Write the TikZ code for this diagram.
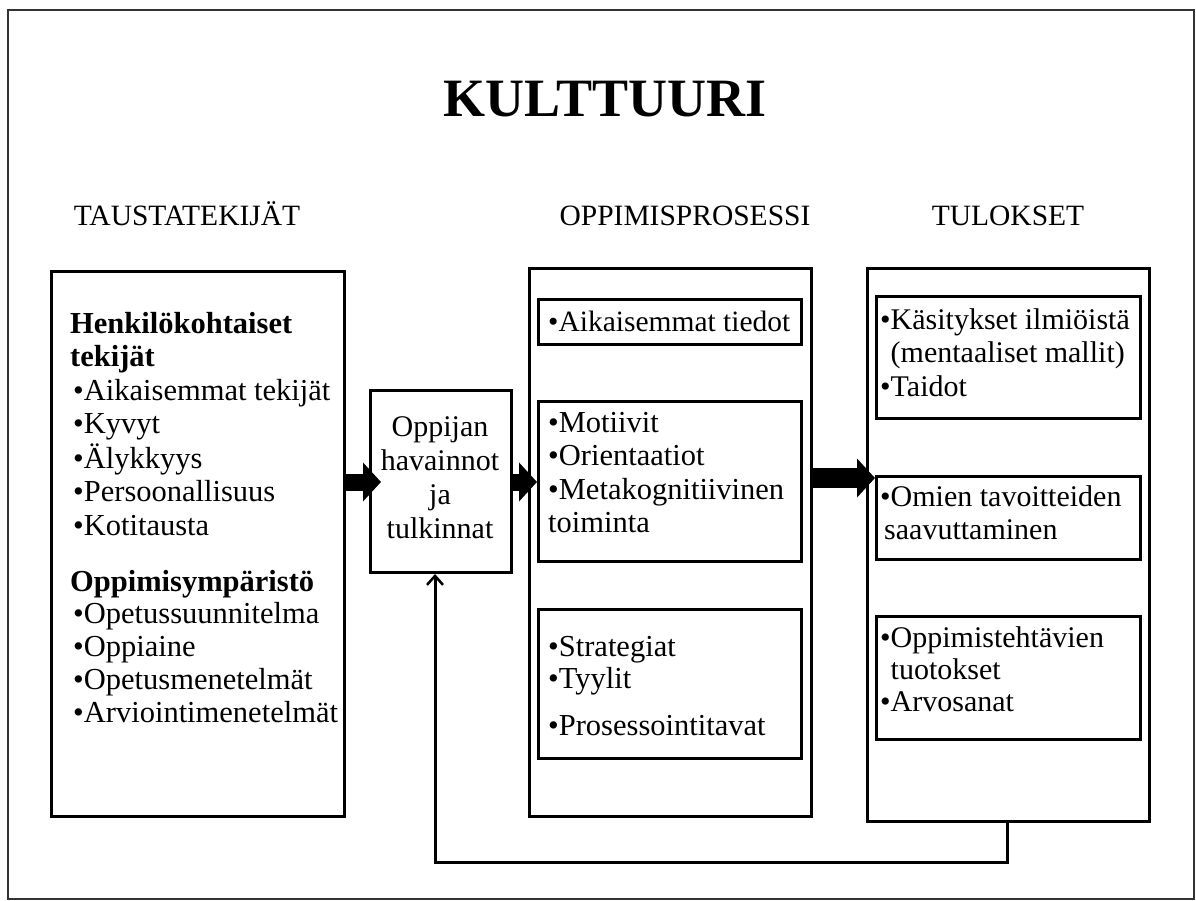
\documentclass[tikz,border=0pt]{standalone}
\usepackage{fontspec}
\setmainfont{Liberation Serif}
\usetikzlibrary{arrows.meta,calc}
\newcommand\tl[1]{\begin{tabular}[t]{@{}l@{}}#1\end{tabular}}
\newcommand\tc[1]{\begin{tabular}[t]{@{}c@{}}#1\end{tabular}}
\newcommand\bul{\textbullet}
\newcommand\bulsp{\hphantom{\textbullet}}
\tikzset{
  box/.style={draw, line width=3pt, anchor=north west, inner sep=0pt},
  txt/.style={anchor=base west, inner sep=0pt, font=\fontsize{30.5}{33.5}\selectfont},
  hdr/.style={anchor=base, inner sep=0pt, font=\fontsize{29.5}{32}\selectfont},
  thick arrow/.style={line width=17pt, -{Triangle[length=18pt,width=38pt]}},
  fb arrow/.style={line width=3pt, -{Straight Barb[length=9pt,width=16pt,line width=2.5pt]}}
}
\begin{document}
\begin{tikzpicture}[x=1pt,y=-1pt]
\useasboundingbox (0,0) rectangle (1196,901);
\fill[white] (0,0) rectangle (1196,901);
\draw[line width=2pt, black!80] (8,10) rectangle (1194,899);

% title and headers
\node[anchor=base, inner sep=0pt, font=\fontsize{54}{60}\selectfont\bfseries] (title) at (605,117) {KULTTUURI};
\node[hdr] (h1) at (187,226) {TAUSTATEKIJÄT};
\node[hdr] (h2) at (685,226) {OPPIMISPROSESSI};
\node[hdr] (h3) at (1008,226) {TULOKSET};

% boxes
\node[box, minimum width=293pt, minimum height=545pt] (lb) at (50,270) {};
\node[box, minimum width=141pt, minimum height=182pt] (opp) at (369,389) {};
\node[box, minimum width=282pt, minimum height=548pt] (mb) at (528,267) {};
\node[box, minimum width=263pt, minimum height=45pt] (m1) at (537,298) {};
\node[box, minimum width=263pt, minimum height=160pt] (m2) at (537,400) {};
\node[box, minimum width=263pt, minimum height=149pt] (m3) at (537,608) {};
\node[box, minimum width=282pt, minimum height=553pt] (rb) at (866,267) {};
\node[box, minimum width=264pt, minimum height=122pt] (r1) at (875,295) {};
\node[box, minimum width=264pt, minimum height=83pt] (r2) at (875,475) {};
\node[box, minimum width=264pt, minimum height=123pt] (r3) at (875,615) {};

% texts
\node[txt] (lt1) at (70,333) {\tl{\textbf{Henkilökohtaiset}\\\textbf{tekijät}\\\hspace{3pt}\bul Aikaisemmat tekijät\\\hspace{3pt}\bul Kyvyt\\\hspace{3pt}\bul Älykkyys\\\hspace{3pt}\bul Persoonallisuus\\\hspace{3pt}\bul Kotitausta}};
\node[txt, font=\fontsize{30.5}{32.8}\selectfont] (lt2) at (70,591) {\tl{\textbf{Oppimisympäristö}\\\hspace{3pt}\bul Opetussuunnitelma\\\hspace{3pt}\bul Oppiaine\\\hspace{3pt}\bul Opetusmenetelmät\\\hspace{3pt}\bul Arviointimenetelmät}};
\node[anchor=base, inner sep=0pt, font=\fontsize{30}{34}\selectfont] (ot) at (440,436) {\tc{Oppijan\\havainnot\\ja\\tulkinnat}};
\node[txt, font=\fontsize{29.5}{33}\selectfont] (mt1) at (548,331) {\bul Aikaisemmat tiedot};
\node[txt] (mt2) at (548,432) {\tl{\bul Motiivit\\\bul Orientaatiot\\\bul Metakognitiivinen\\toiminta}};
\node[txt, font=\fontsize{30.5}{32.5}\selectfont] (mt3) at (548,656) {\tl{\bul Strategiat\\\bul Tyylit\\[14pt]\bul Prosessointitavat}};
\node[txt, font=\fontsize{30}{33.5}\selectfont] (rt1) at (880,329) {\tl{\bul Käsitykset ilmiöistä\\\bulsp(mentaaliset mallit)\\\bul Taidot}};
\node[txt, font=\fontsize{30}{33}\selectfont] (rt2) at (880,506) {\tl{\bul Omien tavoitteiden\\\hspace{4pt}saavuttaminen}};
\node[txt, font=\fontsize{30}{32}\selectfont] (rt3) at (880,647) {\tl{\bul Oppimistehtävien\\\bulsp tuotokset\\\bul Arvosanat}};

% thick arrows
\coordinate (a1) at (0,482);
\coordinate (a3) at (0,478);
\draw[thick arrow] (lb.east |- a1) -- ($(opp.west |- a1)+(12,0)$);
\draw[thick arrow] (opp.east |- a1) -- (m2.west |- a1);
\draw[thick arrow, line width=20pt] (mb.east |- a3) -- (r2.west |- a3);

% feedback
\coordinate (fbR) at (1007,862);
\coordinate (fbL) at (435,862);
\draw[fb arrow] (rb.south -| fbR) -- (fbR) -- (fbL) -- (opp.south -| fbL);
\end{tikzpicture}
\end{document}
